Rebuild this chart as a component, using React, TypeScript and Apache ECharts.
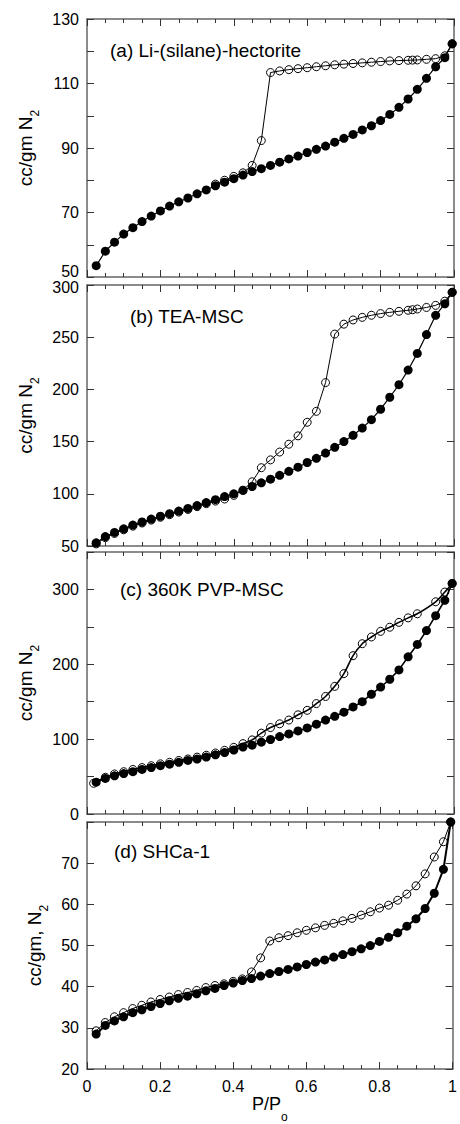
import React, { useEffect, useRef } from "react";
import * as echarts from "echarts";

// ---------------- data ----------------
const X_ADS = [0.025, 0.05, 0.075, 0.1, 0.125, 0.15, 0.175, 0.2, 0.225, 0.25, 0.275, 0.3, 0.325, 0.35, 0.375, 0.4, 0.425, 0.45, 0.475, 0.5, 0.525, 0.55, 0.575, 0.6, 0.625, 0.65, 0.675, 0.7, 0.725, 0.75, 0.775, 0.8, 0.825, 0.85, 0.875, 0.9, 0.925, 0.95, 0.975, 0.995];

// (a) Li-(silane)-hectorite
const A_ADS = [53.5, 58.0, 60.8, 63.3, 65.3, 67.2, 68.9, 70.5, 72.0, 73.3, 74.5, 75.8, 77.0, 78.3, 79.4, 80.5, 81.6, 82.7, 83.6, 84.6, 85.6, 86.6, 87.5, 88.6, 89.6, 90.6, 91.8, 93.0, 94.2, 95.6, 96.9, 98.5, 100.4, 102.6, 105.2, 108.2, 111.6, 115.2, 118.0, 122.3];
const A_DES_X = [0.995, 0.975, 0.95, 0.925, 0.9, 0.887, 0.875, 0.85, 0.825, 0.8, 0.775, 0.75, 0.725, 0.7, 0.675, 0.65, 0.625, 0.6, 0.575, 0.55, 0.525, 0.5, 0.475, 0.45, 0.425, 0.4, 0.375, 0.35];
const A_DES = [122.3, 118.6, 117.7, 117.5, 117.3, 117.25, 117.2, 117.1, 117.0, 116.8, 116.6, 116.4, 116.2, 116.0, 115.8, 115.5, 115.2, 114.9, 114.6, 114.3, 113.9, 113.4, 92.3, 84.6, 82.3, 81.2, 80.0, 78.8];

// (b) TEA-MSC
const B_ADS = [53, 59, 63, 66.5, 70, 73, 75.8, 78.5, 81, 83.5, 86, 88.7, 91.6, 94.4, 97.3, 100, 103.2, 107, 110.5, 114, 117.7, 121.5, 125.5, 130, 134, 139, 144.5, 150, 156, 163, 171, 181, 192.5, 204.5, 218.5, 234.5, 252.5, 271, 282, 293];
const B_DES_X = [0.995, 0.975, 0.95, 0.925, 0.9, 0.887, 0.875, 0.85, 0.825, 0.8, 0.775, 0.75, 0.725, 0.7, 0.675, 0.65, 0.625, 0.6, 0.575, 0.55, 0.525, 0.5, 0.475, 0.45, 0.425, 0.4, 0.375, 0.35, 0.325, 0.3, 0.275, 0.25, 0.225, 0.2, 0.175, 0.15, 0.125, 0.1, 0.075, 0.05, 0.025];
const B_DES = [293, 284.5, 280.5, 278.5, 277, 276.3, 275.8, 274.8, 273.8, 272.6, 271, 269, 266.5, 262.5, 253, 206.5, 179, 168.5, 155.5, 147.5, 140, 132.5, 125, 111.5, 103.5, 98.5, 95, 93, 90.5, 87.7, 85, 82.5, 80, 77.5, 74.8, 72, 69, 65.5, 62, 58, 52];

// (c) 360K PVP-MSC
const C_ADS = [42.5, 47.5, 51, 54, 56.5, 59.5, 62, 64.5, 66.5, 69, 71.5, 73.5, 76, 79, 82, 85.5, 89.5, 92, 96, 99.5, 103.5, 107, 111, 115, 120, 125.5, 130.5, 136, 143, 150, 160, 169.5, 180, 192.5, 210, 226.5, 245, 265, 285.5, 308];
const C_DES_X = [0.995, 0.975, 0.95, 0.9, 0.875, 0.85, 0.825, 0.8, 0.775, 0.75, 0.725, 0.7, 0.675, 0.65, 0.625, 0.6, 0.575, 0.55, 0.525, 0.5, 0.475, 0.45, 0.425, 0.4, 0.375, 0.35, 0.325, 0.3, 0.275, 0.25, 0.225, 0.2, 0.175, 0.15, 0.125, 0.1, 0.075, 0.05, 0.018];
const C_DES = [308, 296.5, 283.5, 267.5, 262, 256, 249.5, 244, 236.5, 227.5, 211.5, 187.5, 170.5, 157, 147.5, 138.5, 132.5, 125.5, 120.5, 115.5, 108, 99, 94, 89, 85, 81.5, 78.5, 76, 73.5, 71.5, 69, 67, 64.5, 62, 59.5, 56.5, 53.5, 49, 41];

// (d) SHCa-1
const D_ADS = [28.5, 30.6, 31.7, 32.7, 33.7, 34.4, 35.2, 35.9, 36.6, 37.2, 37.7, 38.3, 39.0, 39.6, 40.3, 40.9, 41.5, 42.0, 42.6, 43.2, 43.7, 44.2, 44.8, 45.4, 46.0, 46.5, 47.2, 47.8, 48.5, 49.2, 50.0, 51.0, 52.0, 53.1, 54.7, 56.5, 59.0, 62.7, 68.5, 80];
const D_DES_X = [0.995, 0.975, 0.95, 0.925, 0.9, 0.875, 0.85, 0.825, 0.8, 0.775, 0.75, 0.725, 0.7, 0.675, 0.65, 0.625, 0.6, 0.575, 0.55, 0.525, 0.5, 0.475, 0.45, 0.425, 0.4, 0.375, 0.35, 0.325, 0.3, 0.275, 0.25, 0.225, 0.2, 0.175, 0.15, 0.125, 0.1, 0.075, 0.05, 0.025];
const D_DES = [80, 75.2, 71.5, 67.4, 64.5, 62.5, 61, 59.8, 59.1, 58.2, 57.4, 56.6, 56, 55.4, 54.9, 54.3, 53.7, 53.1, 52.4, 51.9, 51.1, 47, 43.6, 41.9, 41.3, 40.7, 40.3, 39.8, 39.1, 38.6, 38.1, 37.5, 36.9, 36.3, 35.5, 34.7, 33.7, 32.7, 31.3, 29.3];

const PANEL_LABELS = ["(a) Li-(silane)-hectorite", "(b) TEA-MSC", "(c) 360K PVP-MSC", "(d) SHCa-1"];
const Y_NAMES = ["cc/gm N", "cc/gm N", "cc/gm N", "cc/gm, N"];
const Y_RANGES = [[50, 130, 10], [50, 300, 50], [0, 350, 50], [20, 80, 10]];
const X_NAME = "P/P";
const X_SUB = "o";

// ---------------- layout / styles ----------------
const FONT = "Liberation Sans, Arial, Helvetica, sans-serif";
const FRAME = "#666";
const GRIDS = [
  { top: 19, height: 258 },
  { top: 285, height: 261 },
  { top: 552, height: 262 },
  { top: 822, height: 260 },
];
const LABEL_POS = [
  { x: 110, y: 52 },
  { x: 130, y: 318 },
  { x: 120, y: 591 },
  { x: 114, y: 853 },
];
const LABEL_SHOW = [
  (v: number) => v % 20 === 10,
  (v: number) => true,
  (v: number) => v % 100 === 0,
  (v: number) => v <= 70,
];

const zip = (xs: number[], ys: number[]) => xs.map((x, i) => [x, ys[i]]);

const PANEL_DATA = [
  { ads: A_ADS, desX: A_DES_X, des: A_DES, smooth: false, adsW: 1.2, desW: 1 },
  { ads: B_ADS, desX: B_DES_X, des: B_DES, smooth: false, adsW: 1.2, desW: 1 },
  { ads: C_ADS, desX: C_DES_X, des: C_DES, smooth: true, adsW: 1.6, desW: 1.6 },
  { ads: D_ADS, desX: D_DES_X, des: D_DES, smooth: false, adsW: 2, desW: 1 },
];

function buildOption() {
  const grid: any[] = [];
  const xAxis: any[] = [];
  const yAxis: any[] = [];
  const series: any[] = [];
  const graphic: any[] = [];
  const axisLine = { show: true, onZero: false, lineStyle: { color: FRAME, width: 1.5 } };
  const tickStyle = { color: "#333", width: 1 };

  GRIDS.forEach((g, i) => {
    grid.push({ left: 87, width: 367, top: g.top, height: g.height, containLabel: false });
    const isLast = i === 3;
    const baseX = {
      gridIndex: i,
      type: "value",
      min: 0,
      max: 1,
      interval: 0.2,
      axisLine,
      axisTick: { show: true, inside: true, length: 7, lineStyle: tickStyle },
      minorTick: { show: true, splitNumber: 4, length: 4, lineStyle: tickStyle },
      splitLine: { show: false },
      minorSplitLine: { show: false },
    };
    xAxis.push({
      ...baseX,
      position: "bottom",
      axisLabel: {
        show: isLast,
        margin: 9,
        fontSize: 16,
        fontFamily: FONT,
        color: "#000",
        formatter: (v: number) => (v === 0 ? "0" : v === 1 ? "1" : v.toFixed(1)),
      },
      name: isLast ? `{m|${X_NAME}}{s|${X_SUB}}` : "",
      nameLocation: "middle",
      nameGap: 22,
      nameTextStyle: {
        rich: {
          m: { fontSize: 18, fontFamily: FONT, color: "#000", verticalAlign: "top", lineHeight: 20 },
          s: { fontSize: 12, fontFamily: FONT, color: "#000", verticalAlign: "top", padding: [16, 0, 0, 0] },
        },
      },
    });
    xAxis.push({ ...baseX, position: "top", axisLabel: { show: false } });

    const [ymin, ymax, yint] = Y_RANGES[i];
    const show = LABEL_SHOW[i];
    const baseY = {
      gridIndex: i,
      type: "value",
      min: ymin,
      max: ymax,
      interval: yint,
      axisLine,
      axisTick: { show: true, inside: true, length: 7, lineStyle: tickStyle },
      splitLine: { show: false },
    };
    yAxis.push({
      ...baseY,
      position: "left",
      axisLabel: {
        show: true,
        margin: 8,
        fontSize: 16,
        fontFamily: FONT,
        color: "#000",
        // panel (a)'s bottom label sits just above panel (b)'s top label
        formatter: (v: number) => {
          if (!show(v)) return "";
          if (i === 0 && v === ymin) return `{lo|${v}}`;
          if (i === 1 && v === ymax) return `{hi|${v}}`;
          return String(v);
        },
        rich: {
          lo: { fontSize: 16, fontFamily: FONT, color: "#000", lineHeight: 14, padding: [0, 0, 12, 0] },
          hi: { fontSize: 16, fontFamily: FONT, color: "#000", lineHeight: 14, padding: [5, 0, 0, 0] },
        },
      },
      name: `{m|${Y_NAMES[i]}}{s|2}`,
      nameLocation: "middle",
      nameGap: 37,
      nameTextStyle: {
        rich: {
          m: { fontSize: 19, fontFamily: FONT, color: "#000", verticalAlign: "top", lineHeight: 24 },
          s: { fontSize: 12, fontFamily: FONT, color: "#000", verticalAlign: "top", padding: [13, 0, 0, 0] },
        },
      },
    });
    yAxis.push({ ...baseY, position: "right", axisLabel: { show: false } });

    const p = PANEL_DATA[i];
    series.push({
      type: "line",
      xAxisIndex: 2 * i,
      yAxisIndex: 2 * i,
      data: zip(p.desX, p.des),
      symbol: "circle",
      symbolSize: 8,
      smooth: p.smooth ? 0.3 : false,
      clip: false,
      itemStyle: { color: "rgba(0,0,0,0)", borderColor: "#000", borderWidth: 1 },
      lineStyle: { color: "#000", width: p.desW },
      z: 2,
    });
    series.push({
      type: "line",
      xAxisIndex: 2 * i,
      yAxisIndex: 2 * i,
      data: zip(X_ADS, p.ads),
      symbol: "circle",
      symbolSize: 9,
      clip: false,
      itemStyle: { color: "#000" },
      lineStyle: { color: "#000", width: p.adsW },
      z: 3,
    });

    graphic.push({
      type: "text",
      left: LABEL_POS[i].x,
      top: LABEL_POS[i].y - 11,
      style: { text: PANEL_LABELS[i], fontSize: 19, fontFamily: FONT, fill: "#000" },
      z: 10,
    });
  });

  return { animation: false, backgroundColor: "#fff", grid, xAxis, yAxis, series, graphic };
}

export default function App() {
  const ref = useRef<HTMLDivElement>(null);
  useEffect(() => {
    if (!ref.current) return;
    const chart = echarts.init(ref.current, undefined, { renderer: "svg" });
    chart.setOption(buildOption() as any);
    return () => chart.dispose();
  }, []);
  return (
    <div
      ref={ref}
      style={{ position: "absolute", left: 0, top: 0, width: 460, height: 1124, background: "#fff" }}
    />
  );
}
